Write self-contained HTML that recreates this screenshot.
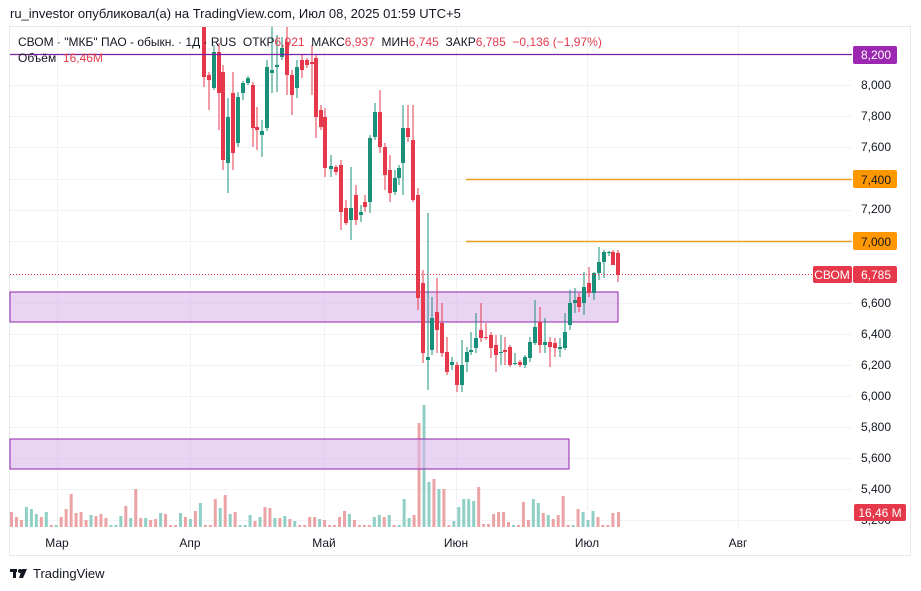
<!DOCTYPE html>
<html><head><meta charset="utf-8">
<style>
body{margin:0;width:921px;height:591px;background:#fff;overflow:hidden;font-family:"Liberation Sans","DejaVu Sans",sans-serif;}
svg{position:absolute;left:0;top:0}
</style></head><body>
<svg id="s" width="921" height="591" xmlns="http://www.w3.org/2000/svg" font-family="Liberation Sans, DejaVu Sans, sans-serif">
<rect x="9.5" y="26.5" width="901" height="529" fill="#fff" stroke="#e6e8ee"/>
<g id="grid" stroke="#f0f2f6" stroke-width="1"></g>
<g id="vol"></g>
<rect x="10" y="292" width="608" height="30" fill="#dcb8ec" fill-opacity="0.6" stroke="#8e24aa" stroke-width="1"/>
<rect x="10" y="439" width="559" height="30" fill="#dcb8ec" fill-opacity="0.6" stroke="#8e24aa" stroke-width="1"/>
<g id="cdl"></g>
<rect x="0" y="0" width="921" height="26" fill="#fff"/>
<line x1="10" y1="54.5" x2="852" y2="54.5" stroke="#7b1fa2" stroke-width="1.2"/>
<line x1="466" y1="179.5" x2="852" y2="179.5" stroke="#f0a020" stroke-width="1.5"/>
<line x1="466" y1="241.5" x2="852" y2="241.5" stroke="#f0a020" stroke-width="1.5"/>
<line x1="10" y1="274.5" x2="812" y2="274.5" stroke="#e0303e" stroke-width="1" stroke-dasharray="1,2"/>
<g font-size="12" fill="#131722" text-anchor="end">
<text x="891" y="89">8,000</text><text x="891" y="120">7,800</text><text x="891" y="151">7,600</text>
<text x="891" y="213">7,200</text>
<text x="891" y="307">6,600</text><text x="891" y="338">6,400</text><text x="891" y="369">6,200</text>
<text x="891" y="400">6,000</text><text x="891" y="431">5,800</text><text x="891" y="462">5,600</text><text x="891" y="493">5,400</text>
<text x="891" y="524">5,200</text>
</g>
<rect x="853" y="46" width="44" height="18" rx="2" fill="#9c27b0"/><text x="891" y="59" font-size="12" fill="#fff" text-anchor="end">8,200</text>
<rect x="853" y="170" width="44" height="18" rx="2" fill="#ff9800"/><text x="891" y="184" font-size="12" fill="#131722" text-anchor="end">7,400</text>
<rect x="853" y="232" width="44" height="18" rx="2" fill="#ff9800"/><text x="891" y="246" font-size="12" fill="#131722" text-anchor="end">7,000</text>
<rect x="813" y="266" width="39" height="17" rx="2" fill="#e5394b"/><text x="832" y="279" font-size="12" fill="#fff" text-anchor="middle">СВОМ</text>
<rect x="853" y="266" width="44" height="17" rx="2" fill="#e5394b"/><text x="891" y="279" font-size="12" fill="#fff" text-anchor="end">6,785</text>
<rect x="854" y="504" width="52" height="17" rx="2" fill="#e5394b"/><text x="880" y="517" font-size="12" fill="#fff" text-anchor="middle">16,46 M</text>
<g font-size="12" fill="#131722" text-anchor="middle">
<text x="57" y="547">Мар</text><text x="190" y="547">Апр</text><text x="324" y="547">Май</text><text x="456" y="547">Июн</text><text x="587" y="547">Июл</text><text x="738" y="547">Авг</text>
</g>
<text x="10" y="18" font-size="13" fill="#131722">ru_investor опубликовал(а) на TradingView.com, Июл 08, 2025 01:59 UTC+5</text>
<text x="18" y="46" font-size="12" fill="#131722" xml:space="preserve">СВОМ · "МКБ" ПАО - обыкн. · 1Д · RUS  ОТКР<tspan fill="#e5394b">6,921</tspan>  МАКС<tspan fill="#e5394b">6,937</tspan>  МИН<tspan fill="#e5394b">6,745</tspan>  ЗАКР<tspan fill="#e5394b">6,785</tspan>  <tspan fill="#e5394b">−0,136 (−1,97%)</tspan></text>
<text x="18" y="62" font-size="12" fill="#131722" xml:space="preserve">Объём  <tspan fill="#e5394b">16,46M</tspan></text>
<g transform="translate(10,567)"><rect x="0" y="2" width="7" height="3" fill="#131722"/><rect x="3" y="2" width="3" height="9" fill="#131722"/><circle cx="10" cy="4" r="2" fill="#131722"/><path d="M12 2h5l-4 9h-4z" fill="#131722"/></g>
<text x="33" y="578" font-size="13" fill="#131722">TradingView</text>
</svg>
<script>
var NS="http://www.w3.org/2000/svg";
function el(p,t,a){var e=document.createElementNS(NS,t);for(var k in a)e.setAttribute(k,a[k]);p.appendChild(e);return e;}
var g=document.getElementById("grid");
[85,116,147,179,210,241,303,334,365,396,427,458,489,520].forEach(function(y){el(g,"line",{x1:10,x2:852,y1:y+.5,y2:y+.5});});
[57,190,324,456,587,738].forEach(function(x){el(g,"line",{x1:x+.5,x2:x+.5,y1:27,y2:530});});
var C=[[204,27,77,20,87,'r'],[209,75,80,72,110,'r'],[214,52,88,45,90,'g'],[219,52,93,43,130,'r'],[223,72,160,65,170,'r'],[228,117,163,98,193,'g'],[233,93,153,72,170,'r'],[238,97,143,92,147,'g'],[243,83,93,81,100,'g'],[248,78,83,76,85,'g'],[253,85,128,82,147,'r'],[257,127,130,107,150,'r'],[262,131,135,120,157,'g'],[267,67,128,60,131,'g'],[272,70,73,27,93,'g'],[277,65,67,35,92,'g'],[282,48,57,37,60,'g'],[287,42,75,27,95,'r'],[292,75,95,70,115,'r'],[297,67,88,60,98,'g'],[302,60,70,55,78,'r'],[307,60,65,58,68,'r'],[312,62,64,45,95,'r'],[316,58,117,55,138,'r'],[321,110,127,105,130,'r'],[325,117,168,108,177,'r'],[331,166,169,155,177,'g'],[336,167,172,165,175,'r'],[341,165,212,160,230,'r'],[346,208,223,200,225,'r'],[351,208,220,167,240,'g'],[356,195,220,185,225,'r'],[361,212,215,205,222,'g'],[365,202,207,195,212,'r'],[370,138,202,135,213,'g'],[375,112,137,103,140,'g'],[380,112,147,90,153,'r'],[385,147,175,143,190,'r'],[390,170,193,155,202,'r'],[395,178,192,170,195,'g'],[399,168,178,165,185,'g'],[403,128,163,105,195,'g'],[408,128,137,105,142,'r'],[413,140,200,105,202,'r'],[418,195,298,188,310,'r'],[423,283,353,270,363,'r'],[428,357,360,213,390,'g'],[432,318,350,297,355,'g'],[437,312,330,278,353,'r'],[442,323,353,303,357,'r'],[447,352,372,337,375,'r'],[452,362,365,357,370,'g'],[457,365,385,362,392,'r'],[462,365,385,340,392,'g'],[467,352,362,347,372,'g'],[471,350,352,332,355,'g'],[476,338,348,313,353,'g'],[481,330,338,303,342,'r'],[486,337,338,323,340,'r'],[491,335,348,332,358,'r'],[496,345,355,335,372,'r'],[501,352,353,335,365,'g'],[505,350,352,337,365,'r'],[510,347,365,345,367,'r'],[515,363,364,353,365,'g'],[520,362,365,360,367,'r'],[525,357,365,355,368,'g'],[530,342,358,337,362,'g'],[535,327,343,300,345,'g'],[540,322,345,307,353,'r'],[545,342,345,318,353,'g'],[550,342,347,337,367,'r'],[555,343,348,338,357,'r'],[560,347,349,338,357,'g'],[565,332,348,313,350,'g'],[570,303,325,290,330,'g'],[575,300,303,288,313,'g'],[579,297,307,293,312,'r'],[584,287,303,272,315,'g'],[589,283,293,267,297,'r'],[594,273,293,272,300,'g'],[599,262,273,247,280,'g'],[604,252,262,250,278,'g'],[609,252,253,251,256,'g'],[613,252,265,250,265,'r'],[618,253,275,250,282,'r']];
var cg=document.getElementById("cdl");
C.forEach(function(c){var col=c[5]=='r'?'#e5394b':'#1a8f7a';
el(cg,"line",{x1:c[0],x2:c[0],y1:Math.max(27,c[3]),y2:c[4],stroke:col,"stroke-width":1});
el(cg,"rect",{x:c[0]-2,y:Math.max(27,c[1]),width:4,height:Math.max(1,c[2]-Math.max(27,c[1])),fill:col});});
var V=[15,10,7,20,18,13,10,15,2,2,10,18,33,14,15,7,12,11,13,9,2,2,11,21,9,38,9,9,7,8,14,13,2,2,14,10,8,16,24,2,2,28,19,32,13,15,2,2,12,6,10,20,19,9,9,11,8,6,2,2,10,10,8,7,2,2,10,16,13,7,2,2,2,10,12,10,12,2,2,28,9,12,104,122,45,48,38,38,2,6,20,28,28,26,40,3,3,13,15,15,5,2,2,25,7,28,24,14,12,8,12,31,2,2,18,15,7,16,10,2,2,14];
var col="rrrgggrgrgrrrrrrgrrrgggrgrrgrrgrrrgrgrgrrrgrgrgggrgrrgrgrgrrrrgrrrrrgrrrrggrgrgggrrrrgrrrgggggrrrrrrrgrrrggrgrrrrgrgggrrrrgrrgrgrgrr";
var vg=document.getElementById("vol");
for(var i=0;i<V.length;i++){var x=10+i*4.97;var c=col[i%col.length]=='r'?'#eca3a6':'#8fcfc6';
if(i==82)c='#eca3a6';if(i==83)c='#8fcfc6';if(i>=84&&i<=87)c=(i%2?'#eca3a6':'#8fcfc6');
el(vg,"rect",{x:x,y:527-V[i],width:3,height:V[i],fill:c});}
el(vg,"rect",{x:617,y:512,width:3,height:15,fill:'#eca3a6'});
</script>
</body></html>
